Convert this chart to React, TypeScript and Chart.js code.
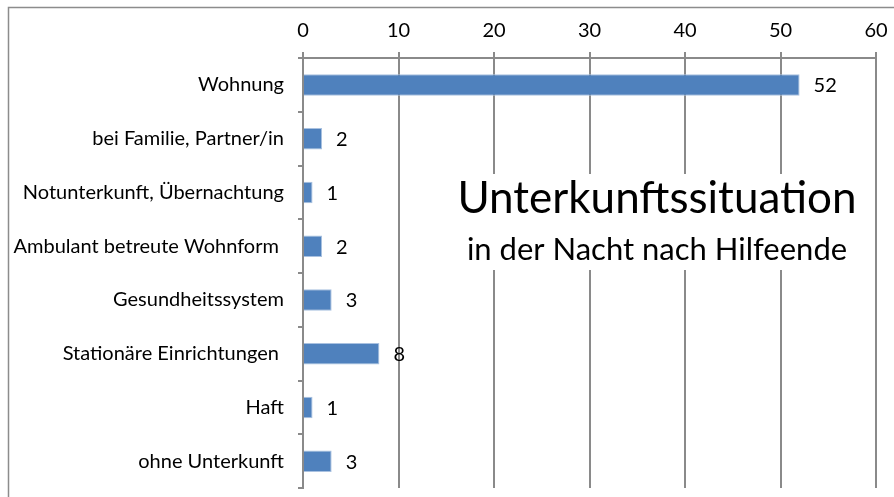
import React, { useEffect, useRef } from "react";
import { Chart, registerables } from "chart.js";

Chart.register(...registerables);

const categories = [
  "Wohnung",
  "bei Familie, Partner/in",
  "Notunterkunft, Übernachtung",
  "Ambulant betreute Wohnform ",
  "Gesundheitssystem",
  "Stationäre Einrichtungen ",
  "Haft",
  "ohne Unterkunft",
];
const values = [52, 2, 1, 2, 3, 8, 1, 3];
const titleMain = "Unterkunftssituation";
const titleSub = "in der Nacht nach Hilfeende";
const xMin = 0;
const xMax = 60;
const xStep = 10;

const FONT = "Lato, 'Liberation Sans', sans-serif";

export default function App() {
  const ref = useRef<HTMLCanvasElement | null>(null);
  useEffect(() => {
    if (!ref.current) return;
    const frame = {
      id: "frame",
      beforeDraw(chart: any) {
        const c = chart.ctx;
        c.save();
        c.fillStyle = "#ffffff";
        c.fillRect(0, 0, chart.width, chart.height);
        c.strokeStyle = "#8c8c8c";
        c.lineWidth = 1.5;
        c.strokeRect(8.5, 7.5, 900, 500);
        c.restore();
      },
    };
    const labels = {
      id: "labels",
      afterDatasetsDraw(chart: any) {
        const c = chart.ctx;
        const meta = chart.getDatasetMeta(0);
        c.save();
        c.font = `20px ${FONT}`;
        c.fillStyle = "#000";
        c.textAlign = "left";
        c.textBaseline = "middle";
        meta.data.forEach((el: any, i: number) => {
          c.fillText(String(values[i]), el.x + 14, el.y + 1);
        });
        c.restore();
      },
      afterDraw(chart: any) {
        const c = chart.ctx;
        c.save();
        c.fillStyle = "#ffffff";
        c.fillRect(448, 174, 418, 96);
        c.fillStyle = "#000";
        c.textAlign = "center";
        c.textBaseline = "alphabetic";
        c.font = `44px ${FONT}`;
        c.fillText(titleMain, 657, 213);
        c.font = `31px ${FONT}`;
        c.fillText(titleSub, 657, 260);
        c.restore();
      },
    };
    const chart = new Chart(ref.current, {
      type: "bar",
      data: {
        labels: categories,
        datasets: [
          {
            data: values,
            backgroundColor: "#4F81BD",
            borderColor: "#A9C1E0",
            borderWidth: 1,
            barPercentage: 0.4,
            categoryPercentage: 1,
          },
        ],
      },
      options: {
        indexAxis: "y",
        animation: false,
        responsive: false,
        maintainAspectRatio: false,
        layout: { padding: { left: 0, right: 18, top: 0, bottom: 9 } },
        plugins: {
          legend: { display: false },
          tooltip: { enabled: false },
          title: { display: false },
        },
        scales: {
          x: {
            position: "top",
            min: xMin,
            max: xMax,
            afterFit: (s: any) => {
              s.height = 58;
              s.paddingLeft = 0;
              s.paddingRight = 0;
            },
            ticks: {
              stepSize: xStep,
              color: "#000",
              font: { family: FONT, size: 20 },
              padding: 9,
            },
            grid: {
              color: "#8a8a8a",
              lineWidth: 2,
              tickLength: 6,
              drawTicks: true,
            },
            border: { display: true, color: "#8a8a8a", width: 2 },
          },
          y: {
            afterFit: (s: any) => {
              s.width = 303;
              s.paddingTop = 0;
              s.paddingBottom = 0;
            },
            ticks: {
              color: "#000",
              font: { family: FONT, size: 20 },
              padding: 14,
            },
            grid: {
              offset: true,
              drawOnChartArea: false,
              color: "#8a8a8a",
              lineWidth: 2,
              tickLength: 5,
            },
            border: { display: true, color: "#8a8a8a", width: 2 },
          },
        },
      },
      plugins: [frame, labels],
    });
    return () => chart.destroy();
  }, []);
  return (
    <div style={{ position: "fixed", left: 0, top: 0, width: 894, height: 497 }}>
      <canvas ref={ref} width={894} height={497} style={{ display: "block" }} />
    </div>
  );
}
